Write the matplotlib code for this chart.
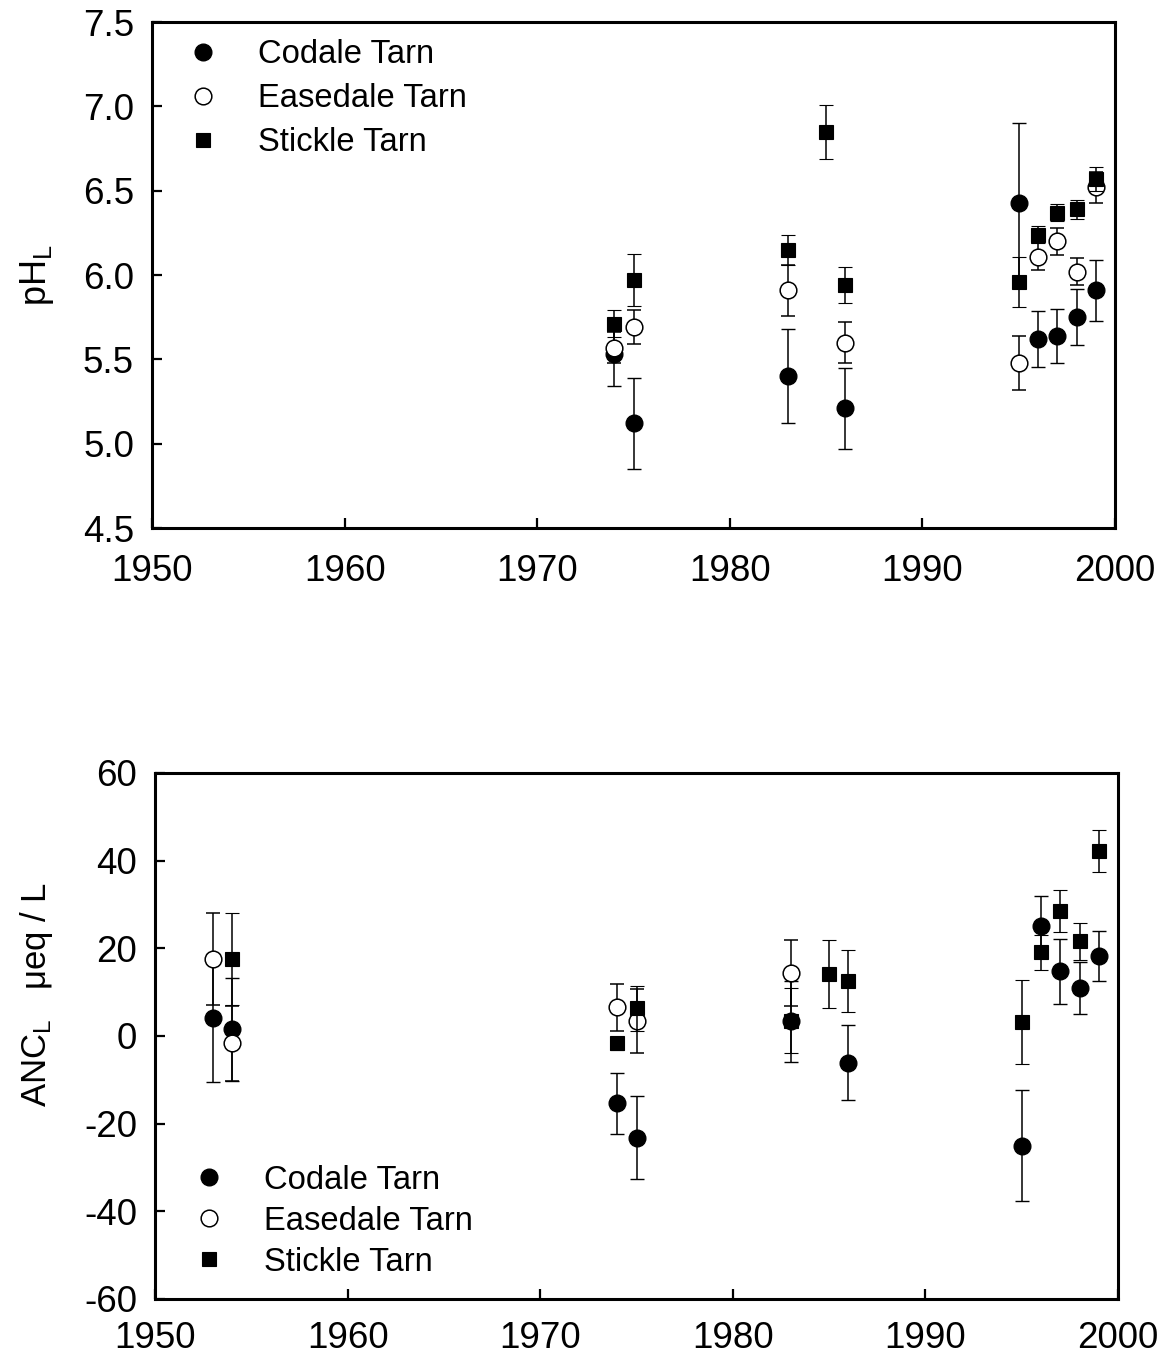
import matplotlib
matplotlib.use("Agg")
import matplotlib.pyplot as plt
from matplotlib.lines import Line2D

plt.rcParams['font.family'] = ['Liberation Sans', 'DejaVu Sans']
plt.rcParams['mathtext.fontset'] = 'custom'
plt.rcParams['mathtext.rm'] = 'Liberation Sans'
plt.rcParams['mathtext.it'] = 'Liberation Sans:italic'
plt.rcParams['axes.unicode_minus'] = False

# ---------------- data: pH ----------------
codale_years_ph = [1974, 1975, 1983, 1986, 1995, 1996, 1997, 1998, 1999]
codale_ph = [5.53, 5.12, 5.40, 5.21, 6.43, 5.62, 5.64, 5.75, 5.91]
codale_ph_err = [0.19, 0.27, 0.28, 0.24, 0.47, 0.165, 0.16, 0.165, 0.18]

easedale_years_ph = [1974, 1975, 1983, 1986, 1995, 1996, 1997, 1998, 1999]
easedale_ph = [5.57, 5.69, 5.91, 5.60, 5.48, 6.11, 6.20, 6.02, 6.52]
easedale_ph_err = [0.09, 0.10, 0.15, 0.12, 0.16, 0.08, 0.08, 0.08, 0.09]

stickle_years_ph = [1974, 1975, 1983, 1985, 1986, 1995, 1996, 1997, 1998, 1999]
stickle_ph = [5.71, 5.97, 6.15, 6.85, 5.94, 5.96, 6.24, 6.37, 6.39, 6.57]
stickle_ph_err = [0.08, 0.155, 0.09, 0.16, 0.105, 0.15, 0.05, 0.05, 0.055, 0.07]

# ---------------- data: ANC ----------------
codale_years_anc = [1953, 1954, 1974, 1975, 1983, 1986, 1995, 1996, 1997, 1998, 1999]
codale_anc = [4.0, 1.5, -15.4, -23.2, 3.3, -6.1, -25.0, 25.0, 14.8, 10.9, 18.2]
codale_anc_err = [14.6, 11.7, 6.9, 9.5, 9.2, 8.6, 12.7, 7.0, 7.4, 5.9, 5.7]

easedale_years_anc = [1953, 1954, 1974, 1975, 1983]
easedale_anc = [17.5, -1.7, 6.5, 3.3, 14.3]
easedale_anc_err = [10.5, 8.5, 5.4, 7.3, 7.5]

stickle_years_anc = [1954, 1974, 1975, 1983, 1985, 1986, 1995, 1996, 1997, 1998, 1999]
stickle_anc = [17.5, -1.7, 6.3, 3.5, 14.1, 12.5, 3.1, 19.1, 28.5, 21.6, 42.2]
stickle_anc_err = [10.5, 1.5, 5.2, 7.5, 7.8, 7.0, 9.6, 4.0, 4.7, 4.2, 4.8]

labels = ["Codale Tarn", "Easedale Tarn", "Stickle Tarn"]
x_ticks = [1950, 1960, 1970, 1980, 1990, 2000]
ph_ticks = [4.5, 5.0, 5.5, 6.0, 6.5, 7.0, 7.5]
anc_ticks = [-60, -40, -20, 0, 20, 40, 60]

# ---------------- styles ----------------
ebkw = dict(ecolor='black', elinewidth=1.1, capsize=5, capthick=1.1, linestyle='none')
sty_c = dict(marker='o', ms=12.0, mfc='black', mec='black', mew=1.0)
sty_e = dict(marker='o', ms=12.0, mfc='white', mec='black', mew=1.1)
sty_s = dict(marker='s', ms=10.5, mfc='black', mec='black', mew=0.8)

fig = plt.figure(figsize=(11.71, 13.62), dpi=100)
ax1 = fig.add_axes([0.1298, 0.6123, 0.8224, 0.3715])
ax2 = fig.add_axes([0.1324, 0.0463, 0.8224, 0.3862])


def style_axes(ax, xpad):
    for sp in ax.spines.values():
        sp.set_linewidth(2.2)
    ax.tick_params(axis='both', direction='in', length=7, width=1.6,
                   labelsize=26.5, top=False, right=False)
    ax.tick_params(axis='x', pad=xpad)
    ax.tick_params(axis='y', pad=13)


# top panel
ax1.errorbar(codale_years_ph, codale_ph, yerr=codale_ph_err, **ebkw, **sty_c, zorder=3)
ax1.errorbar(easedale_years_ph, easedale_ph, yerr=easedale_ph_err, **ebkw, **sty_e, zorder=4)
ax1.errorbar(stickle_years_ph, stickle_ph, yerr=stickle_ph_err, **ebkw, **sty_s, zorder=5)
ax1.set_xlim(1950, 2000)
ax1.set_ylim(4.5, 7.5)
ax1.set_xticks(x_ticks)
ax1.set_yticks(ph_ticks)
ax1.set_yticklabels([f"{t:.1f}" for t in ph_ticks])
ax1.set_ylabel(r'$\mathregular{pH_L}$', fontsize=26)
ax1.yaxis.set_label_coords(-0.100, 0.5)
style_axes(ax1, 19)

# bottom panel
ax2.errorbar(codale_years_anc, codale_anc, yerr=codale_anc_err, **ebkw, **sty_c, zorder=3)
ax2.errorbar(easedale_years_anc, easedale_anc, yerr=easedale_anc_err, **ebkw, **sty_e, zorder=4)
ax2.errorbar(stickle_years_anc, stickle_anc, yerr=stickle_anc_err, **ebkw, **sty_s, zorder=5)
ax2.set_xlim(1950, 2000)
ax2.set_ylim(-60, 60)
ax2.set_xticks(x_ticks)
ax2.set_yticks(anc_ticks)
ax2.set_ylabel(r'$\mathregular{ANC_L}$   μeq / L', fontsize=25)
ax2.yaxis.set_label_coords(-0.104, 0.578)
style_axes(ax2, 16)


def handles():
    return [Line2D([], [], linestyle='none', **sty_c),
            Line2D([], [], linestyle='none', **sty_e),
            Line2D([], [], linestyle='none', **sty_s)]


ax1.legend(handles(), labels, loc='upper left', bbox_to_anchor=(0.0358, 0.966),
           frameon=False, fontsize=23.6, borderaxespad=0, borderpad=0,
           handlelength=1.0, handletextpad=1.167, labelspacing=0.40)
ax2.legend(handles(), labels, loc='lower left', bbox_to_anchor=(0.039, 0.040),
           frameon=False, fontsize=23.6, borderaxespad=0, borderpad=0,
           handlelength=1.0, handletextpad=1.167, labelspacing=0.31)

fig.savefig("out.png", dpi=100)
